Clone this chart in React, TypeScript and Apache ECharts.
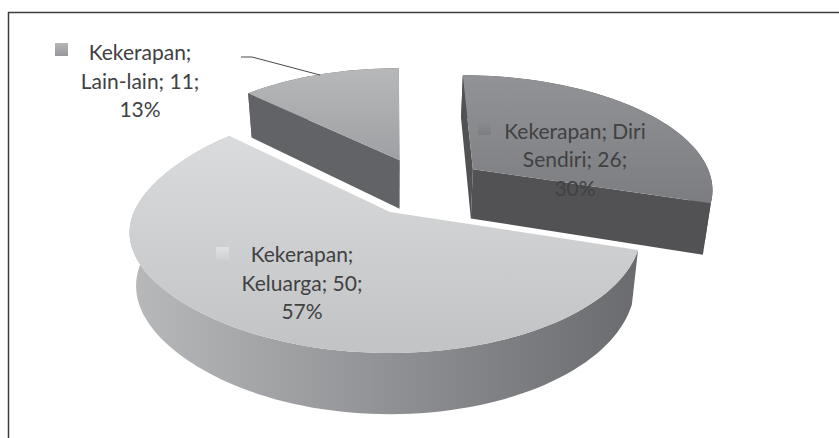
import React, { useEffect, useRef } from "react";
import * as echarts from "echarts";

const seriesName = "Kekerapan";
const categories = ["Diri Sendiri", "Keluarga", "Lain-lain"];
const values = [26, 50, 11];
const labelLines = [
  ["Kekerapan; Diri", "Sendiri; 26;", "30%"],
  ["Kekerapan;", "Keluarga; 50;", "57%"],
  ["Kekerapan;", "Lain-lain; 11;", "13%"],
];

const VIEW = { x0: 392, y0: 212, A: 248.5, B: 119.85, p: 0.15, H: 52, q: 0.025, explode: 0.26, skew: 0.038 };
const ANCHOR_NUDGE = [0, -0.008, 0];
const LABEL_POS = [
  { x: 575, y: 158.5, keyX: 478, keyY: 122 },
  { x: 302, y: 282, keyX: 216, keyY: 247 },
  { x: 140, y: 80, keyX: 55, keyY: 43 },
];
const STYLE = [
  {
    top: ["#929397", "#7c7d81"], rim: ["#525254", "#4c4c4e"], cut: "#525254", key: ["#8a8b8f", "#7d7e82"],
  },
  {
    top: ["#dadbdc", "#c2c3c5"], rim: ["#b8b9bb", "#6a6b6f"], cut: "#8a8b8e", key: ["#e2e2e3", "#cfd0d1"],
  },
  {
    top: ["#b7b8ba", "#9fa0a3"], rim: ["#646568", "#5e5f62"], cut: "#626366", key: ["#b5b6b8", "#97989b"],
  },
];

const total = values.reduce((a, b) => a + b, 0);
const DEG = Math.PI / 180;

function project(X: number, Y: number, z: number): number[] {
  const { x0, y0, A, B, p, H, q, skew } = VIEW;
  const d = 1 + p * Y;
  const u = (Y + 0.3) / 0.9;
  const fade = Math.max(0, 1 - u * u);
  const wx = X < 0 ? X * (1 - skew * X * fade * fade) : X;
  return [x0 + ((A * wx) / d) * (1 - q * z), y0 - (B * Y) / d + (z * H) / d];
}
function grad(a: string, b: string, horizontal: boolean) {
  return new echarts.graphic.LinearGradient(0, 0, horizontal ? 1 : 0, horizontal ? 0 : 1, [
    { offset: 0, color: a },
    { offset: 1, color: b },
  ]);
}
function area(pts: number[][]): number {
  let s = 0;
  for (let i = 0; i < pts.length; i++) {
    const a = pts[i];
    const b = pts[(i + 1) % pts.length];
    s += a[0] * b[1] - b[0] * a[1];
  }
  return s;
}

function renderSlice(params: any, api: any) {
  const i = params.dataIndex;
  const value = api.value(0);
  const before = values.slice(0, i).reduce((a, b) => a + b, 0);
  const a0 = (before / total) * 360;
  const a1 = ((before + value) / total) * 360;
  const mid = ((a0 + a1) / 2) * DEG;
  const refMid = ((values[0] + values[1] / 2) / total) * 2 * Math.PI;
  const ox = VIEW.explode * (Math.sin(mid) - Math.sin(refMid)) + ANCHOR_NUDGE[i];
  const oy = VIEW.explode * (Math.cos(mid) - Math.cos(refMid));
  const arcTop: number[][] = [];
  const arcBot: number[][] = [];
  const steps = Math.max(8, Math.round((a1 - a0) / 2));
  for (let s = 0; s <= steps; s++) {
    const t = (a0 + ((a1 - a0) * s) / steps) * DEG;
    arcTop.push(project(ox + Math.sin(t), oy + Math.cos(t), 0));
    arcBot.push(project(ox + Math.sin(t), oy + Math.cos(t), 1));
  }
  const apexT = project(ox, oy, 0);
  const apexB = project(ox, oy, 1);
  const st = STYLE[i];
  const z2 = Math.round(100 - oy * 100);
  const poly = (points: number[][], fill: any, extra = 0) => ({
    type: "polygon",
    z2: z2 + extra,
    shape: { points },
    style: { fill, stroke: null },
  });
  const pos = LABEL_POS[i];
  const cutStart = [apexT, arcTop[0], arcBot[0], apexB];
  const cutEnd = [apexT, arcTop[steps], arcBot[steps], apexB];
  const children: any[] = [poly([...arcTop, ...arcBot.slice().reverse()], grad(st.rim[0], st.rim[1], true), 0)];
  if (area(cutStart) < 0) children.push(poly(cutStart, st.cut, 1));
  if (area(cutEnd) > 0) children.push(poly(cutEnd, st.cut, 1));
  children.push(
    poly([apexT, ...arcTop], grad(st.top[0], st.top[1], false), 2),
    {
      type: "rect",
      z2: 300,
      shape: { x: pos.keyX, y: pos.keyY, width: 13, height: 13 },
      style: { fill: grad(st.key[0], st.key[1], false) },
    },
    {
      type: "text",
      z2: 301,
      x: pos.x,
      y: pos.y,
      style: {
        text: labelLines[i].join("\n"),
        font: '21px Lato, "Noto Sans", sans-serif',
        lineHeight: 28.5,
        fill: "#404143",
        align: "center",
        verticalAlign: "middle",
      },
    }
  );
  return { type: "group", children };
}

export default function App() {
  const ref = useRef<HTMLDivElement>(null);
  useEffect(() => {
    const chart = echarts.init(ref.current!, undefined, { renderer: "svg" });
    chart.setOption({
      animation: false,
      backgroundColor: "#ffffff",
      graphic: [
        {
          type: "polyline",
          z: 1,
          shape: { points: [[8.5, 438], [8.5, 12.5], [839, 12.5]] },
          style: { fill: "none", stroke: "#3c3c3c", lineWidth: 1.5 },
        },
        {
          type: "polyline",
          z: 20,
          shape: { points: [[241, 57], [252, 57], [320, 75]] },
          style: { fill: "none", stroke: "#4a4a4a", lineWidth: 1 },
        },
      ],
      series: [
        {
          type: "custom",
          name: seriesName,
          coordinateSystem: "none",
          renderItem: renderSlice,
          data: categories.map((c, i) => ({ name: c, value: [values[i]] })),
          silent: true,
        },
      ],
    });
    return () => chart.dispose();
  }, []);
  return <div ref={ref} style={{ position: "fixed", left: 0, top: 0, width: 839, height: 438 }} />;
}
